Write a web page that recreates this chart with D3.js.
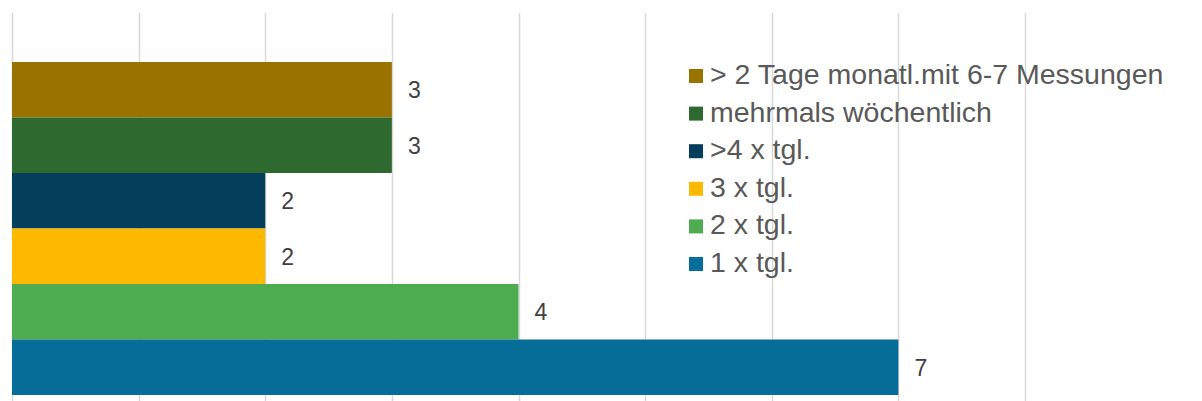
<!DOCTYPE html>
<html>
<head>
<meta charset="utf-8">
<script src="https://cdn.jsdelivr.net/npm/d3@7"></script>
<style>
  body { margin: 0; background: #fff; }
  svg { display: block; font-family: "Liberation Sans", Arial, sans-serif; }
</style>
</head>
<body>
<script>
// categories top to bottom
const categories = ["> 2 Tage monatl.mit 6-7 Messungen", "mehrmals wöchentlich", ">4 x tgl.", "3 x tgl.", "2 x tgl.", "1 x tgl."]
const values = [3, 3, 2, 2, 4, 7]
const colors = ["#997300", "#2e6a30", "#033f5a", "#fcb900", "#4cac4f", "#066d98"]
const xTicks = [0, 1, 2, 3, 4, 5, 6, 7, 8]

const width = 1202
const height = 401

const svg = d3.select("body").append("svg")
  .attr("width", width)
  .attr("height", height)

const x = d3.scaleLinear().domain([0, 8]).range([12, 1025])
const y = d3.scaleBand().domain(categories).range([62, 395]).padding(0)

// vertical gridlines
svg.append("g")
  .selectAll("line")
  .data(xTicks)
  .enter().append("line")
  .attr("x1", d => Math.round(x(d)) + 0.5)
  .attr("x2", d => Math.round(x(d)) + 0.5)
  .attr("y1", 13)
  .attr("y2", height)
  .attr("stroke", "#d9d9d9")
  .attr("stroke-width", 1.5)

// bars
svg.append("g")
  .selectAll("rect")
  .data(categories)
  .enter().append("rect")
  .attr("x", x(0))
  .attr("y", d => y(d))
  .attr("width", (d, i) => x(values[i]) - x(0))
  .attr("height", y.bandwidth())
  .attr("fill", (d, i) => colors[i])

// value labels
svg.append("g")
  .selectAll("text")
  .data(categories)
  .enter().append("text")
  .attr("x", (d, i) => x(values[i]) + 16)
  .attr("y", d => y(d) + y.bandwidth() / 2)
  .attr("dy", "0.36em")
  .attr("font-size", 23)
  .attr("fill", "#404040")
  .text((d, i) => values[i])

// legend
const legend = svg.append("g")
  .selectAll("g")
  .data(categories)
  .enter().append("g")
  .attr("transform", (d, i) => "translate(689," + (76 + i * 37.6) + ")")

legend.append("rect")
  .attr("x", 0)
  .attr("y", -7)
  .attr("width", 14)
  .attr("height", 14)
  .attr("fill", (d, i) => colors[i])

legend.append("text")
  .attr("x", 21)
  .attr("y", 8)
  .attr("font-size", 28.5)
  .attr("fill", "#595959")
  .text(d => d)
</script>
</body>
</html>
